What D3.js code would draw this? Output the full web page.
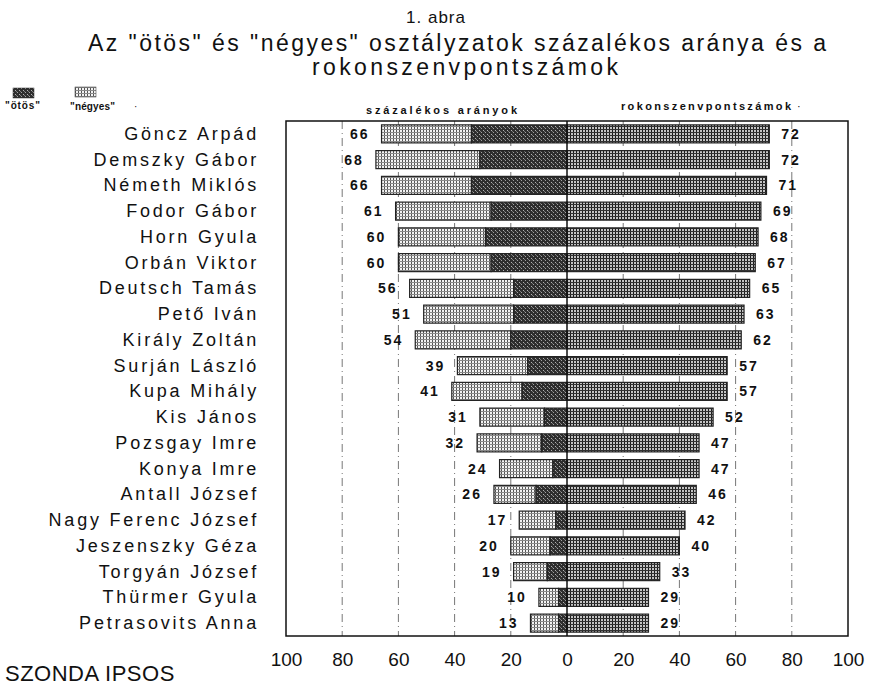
<!DOCTYPE html>
<html><head><meta charset="utf-8">
<script src="https://cdn.jsdelivr.net/npm/d3@7"></script>
<style>body{margin:0;background:#fff} text{font-family:"Liberation Sans",Arial,Helvetica,sans-serif;fill:#111}</style>
</head><body><svg id="c" width="871" height="690"></svg>
<script>
const names = ["Göncz Arpád","Demszky Gábor","Németh Miklós","Fodor Gábor","Horn Gyula","Orbán Viktor","Deutsch Tamás","Pető Iván","Király Zoltán","Surján László","Kupa Mihály","Kis János","Pozsgay Imre","Konya Imre","Antall József","Nagy Ferenc József","Jeszenszky Géza","Torgyán József","Thürmer Gyula","Petrasovits Anna"];
const totals = [66,68,66,61,60,60,56,51,54,39,41,31,32,24,26,17,20,19,10,13];
const otos   = [34,31,34,27,29,27,19,19,20,14,16,8,9,5,11,4,6,7,3,3];
const rokon  = [72,72,71,69,68,67,65,63,62,57,57,52,47,47,46,42,40,33,29,29];
const tickValues = [-100,-80,-60,-40,-20,0,20,40,60,80,100];
const gridValues = [-80,-60,-40,-20,20,40,60,80];

(function(){
const svg = d3.select("#c");
const L = 286, R = 848, T = 121, B = 636;
const x = d3.scaleLinear().domain([-100,100]).range([L,R]);
const y = d3.scaleBand().domain(names).range([T,B]).paddingInner(0.3).paddingOuter(0.15);

// patterns
const defs = svg.append("defs");
const pN = defs.append("pattern").attr("id","pNegyes").attr("patternUnits","userSpaceOnUse").attr("width",3).attr("height",3);
pN.append("rect").attr("width",3).attr("height",3).attr("fill","#f4f4f4");
pN.append("rect").attr("width",1).attr("height",3).attr("fill","#555");
pN.append("rect").attr("width",3).attr("height",1).attr("fill","#8a8a8a");
const pO = defs.append("pattern").attr("id","pOtos").attr("patternUnits","userSpaceOnUse").attr("width",4).attr("height",4);
pO.append("rect").attr("width",4).attr("height",4).attr("fill","#2e2e2e");
pO.append("rect").attr("x",1).attr("y",0).attr("width",1).attr("height",1).attr("fill","#a0a0a0");
pO.append("rect").attr("x",3).attr("y",2).attr("width",1).attr("height",1).attr("fill","#b0b0b0");
pO.append("rect").attr("x",0).attr("y",3).attr("width",1).attr("height",1).attr("fill","#777");
const pR = defs.append("pattern").attr("id","pRokon").attr("patternUnits","userSpaceOnUse").attr("width",3).attr("height",3);
pR.append("rect").attr("width",3).attr("height",3).attr("fill","#c4c4c4");
pR.append("rect").attr("width",1).attr("height",3).attr("fill","#1a1a1a");
pR.append("rect").attr("width",3).attr("height",1).attr("fill","#333");

// titles
svg.append("text").attr("x",436).attr("y",23).attr("text-anchor","middle").attr("font-size",17).attr("letter-spacing",1).text("1. abra");
svg.append("text").attr("x",88).attr("y",51).attr("font-size",23).attr("textLength",738).attr("lengthAdjust","spacing")
  .text('Az "ötös" és "négyes" osztályzatok százalékos aránya és a');
svg.append("text").attr("x",312).attr("y",75).attr("font-size",23).attr("textLength",306).attr("lengthAdjust","spacing")
  .text("rokonszenvpontszámok");

// legend
svg.append("rect").attr("x",13).attr("y",88).attr("width",21).attr("height",10).attr("fill","url(#pOtos)").attr("stroke","#333").attr("stroke-width",0.5);
svg.append("rect").attr("x",75).attr("y",87).attr("width",21).attr("height",10).attr("fill","url(#pNegyes)").attr("stroke","#333").attr("stroke-width",0.5);
svg.append("text").attr("x",5).attr("y",109).attr("font-size",10).attr("font-weight","bold").attr("textLength",35).attr("lengthAdjust","spacing").text('"ötös"');
svg.append("text").attr("x",70).attr("y",110).attr("font-size",10).attr("font-weight","bold").attr("textLength",45).attr("lengthAdjust","spacing").text('"négyes"');
svg.append("text").attr("x",134).attr("y",110).attr("font-size",10).text("·");

// subtitles
svg.append("text").attr("x",366).attr("y",114).attr("font-size",11).attr("font-weight","bold").attr("textLength",151).attr("lengthAdjust","spacing").text("százalékos arányok");
svg.append("text").attr("x",621).attr("y",110).attr("font-size",11).attr("font-weight","bold").attr("textLength",170).attr("lengthAdjust","spacing").text("rokonszenvpontszámok");
svg.append("text").attr("x",797).attr("y",110).attr("font-size",11).text("·");

// grid
svg.append("g").selectAll("line").data(gridValues).join("line")
  .attr("x1",d=>x(d)).attr("x2",d=>x(d)).attr("y1",T).attr("y2",B)
  .attr("stroke","#777").attr("stroke-width",1).attr("stroke-dasharray","8,4,1,4");

// bars
const rows = names.map((n,i)=>({n, tot:totals[i], o:otos[i], r:rokon[i]}));
const g = svg.append("g");
g.selectAll("rect.neg").data(rows).join("rect").attr("class","neg")
  .attr("x",d=>x(-d.tot)).attr("width",d=>x(-d.o)-x(-d.tot))
  .attr("y",d=>y(d.n)).attr("height",y.bandwidth())
  .attr("fill","url(#pNegyes)").attr("stroke","#222").attr("stroke-width",1.2);
g.selectAll("rect.oto").data(rows).join("rect").attr("class","oto")
  .attr("x",d=>x(-d.o)).attr("width",d=>x(0)-x(-d.o))
  .attr("y",d=>y(d.n)).attr("height",y.bandwidth())
  .attr("fill","url(#pOtos)").attr("stroke","#222").attr("stroke-width",1.2);
g.selectAll("rect.rok").data(rows).join("rect").attr("class","rok")
  .attr("x",x(0)).attr("width",d=>x(d.r)-x(0))
  .attr("y",d=>y(d.n)).attr("height",y.bandwidth())
  .attr("fill","url(#pRokon)").attr("stroke","#222").attr("stroke-width",1.2);

// value labels
g.selectAll("text.lt").data(rows).join("text").attr("class","lt")
  .attr("x",d=>x(-d.tot)-12).attr("y",d=>y(d.n)+y.bandwidth()/2+5)
  .attr("text-anchor","end").attr("font-size",14).attr("font-weight","bold").attr("letter-spacing",2)
  .text(d=>d.tot);
g.selectAll("text.rt").data(rows).join("text").attr("class","rt")
  .attr("x",d=>x(d.r)+12).attr("y",d=>y(d.n)+y.bandwidth()/2+5)
  .attr("font-size",14).attr("font-weight","bold").attr("letter-spacing",2)
  .text(d=>d.r);

// names
g.selectAll("text.nm").data(rows).join("text").attr("class","nm")
  .attr("x",259).attr("y",d=>y(d.n)+y.bandwidth()/2+6)
  .attr("text-anchor","end").attr("font-size",18).attr("letter-spacing",2.8)
  .text(d=>d.n);

// frame and zero line
svg.append("rect").attr("x",L).attr("y",T).attr("width",R-L).attr("height",B-T)
  .attr("fill","none").attr("stroke","#111").attr("stroke-width",1.5);
svg.append("line").attr("x1",x(0)).attr("x2",x(0)).attr("y1",T).attr("y2",B).attr("stroke","#111").attr("stroke-width",1.5);

// x axis
const ax = svg.append("g").attr("transform",`translate(0,${B})`)
  .call(d3.axisBottom(x).tickValues(tickValues).tickSize(0).tickPadding(17).tickFormat(d=>Math.abs(d)));
ax.select(".domain").remove();
ax.selectAll("text").attr("font-size",19).attr("font-family","Liberation Sans, Arial, sans-serif").attr("fill","#111");

svg.append("text").attr("x",5).attr("y",681).attr("font-size",22).attr("letter-spacing",0.5).text("SZONDA IPSOS");
})();
</script></body></html>
